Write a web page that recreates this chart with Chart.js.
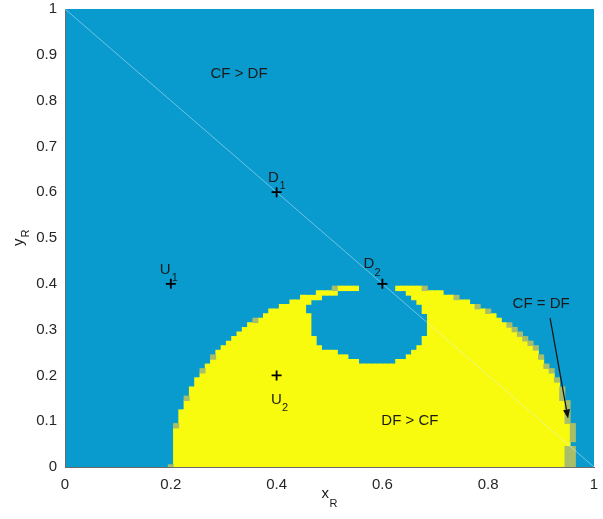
<!DOCTYPE html>
<html>
<head>
<meta charset="utf-8">
<script src="https://cdn.jsdelivr.net/npm/chart.js@4.4.1/dist/chart.umd.min.js"></script>
<style>
html,body{margin:0;padding:0;background:#ffffff;}
#wrap{width:603px;height:519px;}
</style>
</head>
<body>
<div id="wrap"><canvas id="c" width="603" height="519"></canvas></div>
<script>
// ---------------- data ----------------
const xTickValues = [0, 0.2, 0.4, 0.6, 0.8, 1];
const xTickLabels = ['0', '0.2', '0.4', '0.6', '0.8', '1'];
const yTickValues = [0, 0.1, 0.2, 0.3, 0.4, 0.5, 0.6, 0.7, 0.8, 0.9, 1];
const yTickLabels = ['0', '0.1', '0.2', '0.3', '0.4', '0.5', '0.6', '0.7', '0.8', '0.9', '1'];

// grid step of the region map (cells are centred on multiples of it)
const cellSize = 0.01;

// DF > CF region (yellow): per column x, lowest and highest cell
const yellowX = [0.21,0.22,0.23,0.24,0.25,0.26,0.27,0.28,0.29,0.30,0.31,0.32,0.33,0.34,0.35,0.36,0.37,0.38,0.39,0.40,
                 0.41,0.42,0.43,0.44,0.45,0.46,0.47,0.48,0.49,0.50,0.51,0.52,0.53,0.54,0.55,0.56,0.57,0.58,0.59,0.60,
                 0.61,0.62,0.63,0.64,0.65,0.66,0.67,0.68,0.69,0.70,0.71,0.72,0.73,0.74,0.75,0.76,0.77,0.78,0.79,0.80,
                 0.81,0.82,0.83,0.84,0.85,0.86,0.87,0.88,0.89,0.90,0.91,0.92,0.93,0.94,0.95];
const yellowBottom = [0,0,0,0,0,0,0,0,0,0, 0,0,0,0,0,0,0,0,0,0, 0,0,0,0,0,0,0,0,0,0,
                      0,0,0,0,0,0,0,0,0,0, 0,0,0,0,0,0,0,0,0,0, 0,0,0,0,0,0,0,0,0,0,
                      0,0,0,0,0,0,0,0,0,0, 0,0,0,0,0.05];
const yellowTop = [0.08,0.12,0.14,0.17,0.19,0.20,0.22,0.23,0.25,0.26,
                   0.27,0.28,0.29,0.30,0.31,0.31,0.32,0.33,0.34,0.34,
                   0.35,0.35,0.36,0.36,0.37,0.37,0.37,0.38,0.38,0.38,
                   0.38,0.39,0.39,0.39,0.39,0.22,0.22,0.22,0.22,0.22,
                   0.22,0.22,0.39,0.39,0.39,0.39,0.39,0.38,0.38,0.38,
                   0.38,0.37,0.37,0.36,0.36,0.36,0.35,0.34,0.34,0.33,
                   0.33,0.32,0.31,0.30,0.29,0.28,0.27,0.26,0.25,0.23,
                   0.21,0.20,0.18,0.14,0.09];

// CF > DF hole inside the yellow region (per column, lowest and highest blue cell)
const holeX      = [0.46,0.47,0.48,0.49,0.50,0.51,0.52,0.53,0.54,0.55,0.63,0.64,0.65,0.66,0.67,0.68];
const holeBottom = [0.34,0.29,0.27,0.26,0.26,0.26,0.25,0.25,0.24,0.24,0.24,0.24,0.25,0.26,0.27,0.29];
const holeTop    = [0.35,0.36,0.36,0.37,0.37,0.37,0.38,0.38,0.38,0.38,0.38,0.38,0.37,0.36,0.35,0.33];

// CF = DF cells (boundary)
const tieX      = [0.20,0.21,0.23,0.26,0.28,0.36,0.51,0.68,0.74,0.78,0.80,0.84,0.85,0.86,0.87,0.88,0.89,0.90,0.91,0.92,0.93,0.94,0.95,0.95,0.96,0.96];
const tieBottom = [0.00,0.09,0.15,0.21,0.24,0.32,0.39,0.39,0.37,0.35,0.34,0.31,0.30,0.29,0.28,0.27,0.26,0.24,0.22,0.21,0.19,0.15,0.00,0.10,0.00,0.06];
const tieTop    = [0.00,0.09,0.15,0.21,0.24,0.32,0.39,0.39,0.37,0.35,0.34,0.31,0.30,0.29,0.28,0.27,0.26,0.24,0.22,0.21,0.19,0.17,0.04,0.14,0.04,0.09];

// diagonal x + y = 1
const diagX = [0, 1];
const diagY = [1, 0];

// marked points
const pointX    = [0.4, 0.6, 0.2, 0.4];
const pointY    = [0.6, 0.4, 0.4, 0.2];
const pointName = ['D', 'D', 'U', 'U'];
const pointSub  = ['1', '2', '1', '2'];

// region annotations
const regionText = ['CF > DF', 'DF > CF', 'CF = DF'];
const regionX    = [0.329, 0.652, 0.900];
const regionY    = [0.858, 0.100, 0.356];

// arrow (tail -> head)
const arrowX = [0.917, 0.951];
const arrowY = [0.325, 0.106];

// ---------------- style ----------------
const BLUE = 'rgb(9,155,206)';
const YELLOW = 'rgb(249,251,14)';
const OLIVE = 'rgb(169,190,104)';
const TEXT = '#1a1a1a';
const AXIS = '#6b6b6b';
const FONT = '"Liberation Sans", Arial, Helvetica, sans-serif';
const MAIN = '15px ' + FONT;
const SUB = '11px ' + FONT;
// label offsets in px from the marker: [mainDx, mainDy, subDx, subDy]
const labelOffsets = [[-8.5, -10.5, 3.0, -3.0], [-19, -15.5, -8, -8], [-11, -10, 1, -3], [-5.5, 28.5, 5.5, 36]];

// split yellow columns around the hole so no cell is painted twice
function yellowSegments() {
  const out = [];
  yellowX.forEach((x, i) => {
    const h = holeX.findIndex(v => Math.abs(v - x) < 1e-9);
    if (h < 0) {
      out.push({x: x, y: [yellowBottom[i] - cellSize / 2, yellowTop[i] + cellSize / 2]});
    } else {
      out.push({x: x, y: [yellowBottom[i] - cellSize / 2, holeBottom[h] - cellSize / 2]});
      out.push({x: x, y: [holeTop[h] + cellSize / 2, yellowTop[i] + cellSize / 2]});
    }
  });
  return out;
}
const cellBars = (xs, lo, hi) => xs.map((x, i) => ({x: x, y: [lo[i] - cellSize / 2, hi[i] + cellSize / 2]}));

const barStyle = {
  type: 'bar', grouped: false, barPercentage: 1, categoryPercentage: 1,
  borderWidth: 0, inflateAmount: 0.4, clip: 0
};

const bgPlugin = {
  id: 'bg',
  beforeDraw(chart) {
    const {ctx, chartArea: a} = chart;
    ctx.save();
    ctx.fillStyle = BLUE;
    ctx.fillRect(a.left, a.top, a.right - a.left, a.bottom - a.top);
    ctx.restore();
  }
};

const overlay = {
  id: 'overlay',
  afterDraw(chart) {
    const {ctx, chartArea: a} = chart;
    const xs = chart.scales.x, ys = chart.scales.y;
    ctx.save();
    ctx.fillStyle = TEXT;
    ctx.font = MAIN;
    ctx.textAlign = 'center';
    ctx.textBaseline = 'middle';
    regionText.forEach((t, i) => ctx.fillText(t, xs.getPixelForValue(regionX[i]), ys.getPixelForValue(regionY[i])));
    ctx.textAlign = 'left';
    ctx.textBaseline = 'alphabetic';
    pointName.forEach((n, i) => {
      const px = xs.getPixelForValue(pointX[i]), py = ys.getPixelForValue(pointY[i]);
      const o = labelOffsets[i];
      ctx.font = MAIN; ctx.fillText(n, px + o[0], py + o[1]);
      ctx.font = SUB;  ctx.fillText(pointSub[i], px + o[2], py + o[3]);
    });
    const x0 = xs.getPixelForValue(arrowX[0]), y0 = ys.getPixelForValue(arrowY[0]);
    const x1 = xs.getPixelForValue(arrowX[1]), y1 = ys.getPixelForValue(arrowY[1]);
    const ang = Math.atan2(y1 - y0, x1 - x0);
    const hl = 9, hw = 3.5;
    ctx.strokeStyle = '#111';
    ctx.lineWidth = 1.2;
    ctx.beginPath();
    ctx.moveTo(x0, y0);
    ctx.lineTo(x1 - hl * Math.cos(ang), y1 - hl * Math.sin(ang));
    ctx.stroke();
    ctx.fillStyle = '#111';
    ctx.beginPath();
    ctx.moveTo(x1, y1);
    ctx.lineTo(x1 - hl * Math.cos(ang) + hw * Math.sin(ang), y1 - hl * Math.sin(ang) - hw * Math.cos(ang));
    ctx.lineTo(x1 - hl * Math.cos(ang) - hw * Math.sin(ang), y1 - hl * Math.sin(ang) + hw * Math.cos(ang));
    ctx.closePath();
    ctx.fill();
    ctx.fillStyle = TEXT;
    const cx = (a.left + a.right) / 2;
    ctx.font = MAIN; ctx.fillText('x', cx - 8, a.bottom + 31);
    ctx.font = SUB;  ctx.fillText('R', cx, a.bottom + 40);
    const cy = (a.top + a.bottom) / 2;
    ctx.translate(a.left - 42, cy + 8);
    ctx.rotate(-Math.PI / 2);
    ctx.font = MAIN; ctx.fillText('y', 0, 0);
    ctx.font = SUB;  ctx.fillText('R', 8.5, 6);
    ctx.restore();
  }
};

new Chart(document.getElementById('c'), {
  type: 'bar',
  data: {
    datasets: [
      Object.assign({label: 'DF > CF', data: yellowSegments(), backgroundColor: YELLOW, order: 4}, barStyle),
      Object.assign({label: 'CF = DF', data: cellBars(tieX, tieBottom, tieTop), backgroundColor: OLIVE, order: 2}, barStyle),
      {
        type: 'line', label: 'x+y=1', order: 1, clip: 0,
        data: diagX.map((x, i) => ({x: x, y: diagY[i]})),
        borderColor: 'rgba(225,240,255,0.6)', borderWidth: 0.8, pointRadius: 0, fill: false
      },
      {
        type: 'line', label: 'points', order: 0, showLine: false,
        data: pointX.map((x, i) => ({x: x, y: pointY[i]})),
        pointStyle: 'cross', pointRadius: 5, pointBorderWidth: 1.8,
        pointBorderColor: '#000', pointBackgroundColor: '#000'
      }
    ]
  },
  options: {
    responsive: false,
    animation: false,
    devicePixelRatio: 1,
    events: [],
    layout: {padding: {left: 0, right: 9, top: 9, bottom: 0}},
    plugins: {legend: {display: false}, tooltip: {enabled: false}},
    scales: {
      x: {
        type: 'linear', min: 0, max: 1, offset: false, z: 1,
        afterBuildTicks: s => { s.ticks = xTickValues.map(v => ({value: v})); },
        afterFit: s => { s.height = 52; s.paddingLeft = 0; s.paddingRight = 0; },
        ticks: {callback: (v, i) => xTickLabels[i], font: {family: FONT, size: 15}, color: '#262626', padding: 9, maxRotation: 0, autoSkip: false},
        grid: {display: true, drawOnChartArea: false, drawTicks: false, offset: false},
        border: {display: true, color: AXIS, width: 1}
      },
      y: {
        type: 'linear', min: 0, max: 1, z: 1,
        afterBuildTicks: s => { s.ticks = yTickValues.map(v => ({value: v})); },
        afterFit: s => { s.width = 65; s.paddingTop = 0; s.paddingBottom = 0; },
        ticks: {callback: (v, i) => yTickLabels[i], font: {family: FONT, size: 15}, color: '#262626', padding: 8, autoSkip: false},
        grid: {display: true, drawOnChartArea: false, drawTicks: false},
        border: {display: true, color: AXIS, width: 1}
      }
    }
  },
  plugins: [bgPlugin, overlay]
});
</script>
</body>
</html>
